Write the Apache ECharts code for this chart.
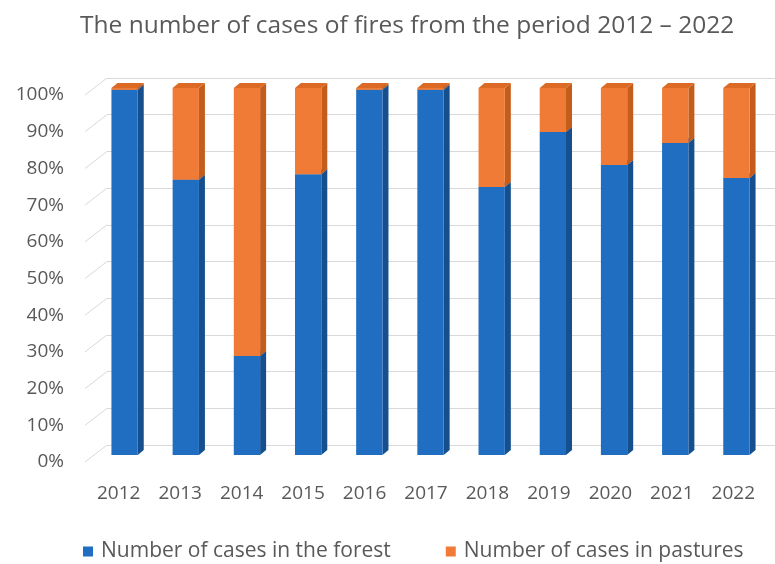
<!DOCTYPE html>
<html>
<head>
<meta charset="utf-8">
<script src="https://cdn.jsdelivr.net/npm/echarts@6/dist/echarts.min.js"></script>
<style>
html,body{margin:0;padding:0;background:#fff;}
#chart{width:775px;height:564px;}
</style>
</head>
<body>
<div id="chart"></div>
<script>
const years = ['2012','2013','2014','2015','2016','2017','2018','2019','2020','2021','2022'];
const forest = [99.5, 75, 27, 76.5, 99.5, 99.5, 73, 88, 79, 85, 75.5];
const pastures = [0.5, 25, 73, 23.5, 0.5, 0.5, 27, 12, 21, 15, 24.5];
const yTicks = [0, 10, 20, 30, 40, 50, 60, 70, 80, 90, 100];
const seriesNames = ['Number of cases in the forest', 'Number of cases in pastures'];
const titleText = 'The number of cases of fires from the period 2012 \u2013 2022';

const FONT = '"Open Sans", sans-serif';
const TXT = '#595959';
const palette = [
  {front: '#1f6ec1', side: '#164f8e', top: '#2a79cf'},
  {front: '#f07b36', side: '#c45d1c', top: '#dd6a24'}
];
const DX = 6, DY = -5;

function boxRenderer(pal) {
  return function (params, api) {
    const idx = api.value(0);
    const lo = api.value(1), hi = api.value(2);
    const pLo = api.coord([idx, lo]);
    const pHi = api.coord([idx, hi]);
    const bw = api.size([1, 0])[0] * 0.43;
    const x0 = pLo[0] - bw / 2, x1 = pLo[0] + bw / 2;
    const yb = pLo[1], yt = pHi[1];
    return {
      type: 'group',
      children: [
        {type: 'polygon', shape: {points: [[x1, yb], [x1 + DX, yb + DY], [x1 + DX, yt + DY], [x1, yt]]}, style: {fill: pal.side}},
        {type: 'polygon', shape: {points: [[x0, yt], [x1, yt], [x1 + DX, yt + DY], [x0 + DX, yt + DY]]}, style: {fill: pal.top}},
        {type: 'rect', shape: {x: x0, y: yt, width: bw, height: yb - yt}, style: {fill: pal.front}}
      ]
    };
  };
}

const forestData = years.map((y, i) => [i, 0, forest[i]]);
const pastureData = years.map((y, i) => [i, forest[i], forest[i] + pastures[i]]);

const chart = echarts.init(document.getElementById('chart'), null, {renderer: 'canvas'});
chart.setOption({
  backgroundColor: '#ffffff',
  animation: false,
  title: {
    text: titleText,
    left: 80, top: 14, padding: 0,
    textStyle: {fontFamily: FONT, fontSize: 24.5, fontWeight: 'normal', color: TXT}
  },
  legend: {
    data: seriesNames,
    left: 83, top: 541, padding: 0,
    itemWidth: 10, itemHeight: 10, itemGap: 55,
    icon: 'rect',
    textStyle: {fontFamily: FONT, fontSize: 21, color: TXT, padding: [0, 0, 0, 3]}
  },
  grid: [
    {left: 107, right: 0, top: 78, bottom: 119},
    {left: 88, right: 11, top: 95, bottom: 102},
    {left: 94, right: 8, top: 88, bottom: 109}
  ],
  xAxis: [
    {gridIndex: 0, type: 'value', min: 0, max: 1, show: false},
    {gridIndex: 1, type: 'category', data: years,
     axisLine: {show: false}, axisTick: {show: false},
     axisLabel: {fontFamily: FONT, fontSize: 19, color: TXT, margin: 22}},
    {gridIndex: 2, type: 'category', data: years, show: false}
  ],
  yAxis: [
    {gridIndex: 0, type: 'value', min: 0, max: 100, interval: 10,
     axisLabel: {show: false}, axisLine: {show: false}, axisTick: {show: false},
     splitLine: {show: true, lineStyle: {color: '#d9d9d9', width: 1}}},
    {gridIndex: 1, type: 'value', min: 0, max: 100, interval: 10,
     axisLine: {show: false}, axisTick: {show: false}, splitLine: {show: false},
     axisLabel: {fontFamily: FONT, fontSize: 19, color: TXT, margin: 24, formatter: '{value}%'}},
    {gridIndex: 2, type: 'value', min: 0, max: 100, show: false}
  ],
  series: [
    {
      type: 'custom', name: 'depth', xAxisIndex: 0, yAxisIndex: 0,
      data: yTicks.map(v => [0, v]),
      silent: true,
      renderItem: function (params, api) {
        const p = api.coord([0, api.value(1)]);
        return {type: 'line', shape: {x1: p[0] - 22, y1: p[1] + 17, x2: p[0], y2: p[1]},
                style: {stroke: '#d9d9d9', lineWidth: 1}};
      }
    },
    {
      type: 'custom', name: seriesNames[0], xAxisIndex: 2, yAxisIndex: 2,
      itemStyle: {color: palette[0].front},
      encode: {x: 0, y: [1, 2]},
      data: forestData,
      renderItem: boxRenderer(palette[0])
    },
    {
      type: 'custom', name: seriesNames[1], xAxisIndex: 2, yAxisIndex: 2,
      itemStyle: {color: palette[1].front},
      encode: {x: 0, y: [1, 2]},
      data: pastureData,
      renderItem: boxRenderer(palette[1])
    }
  ]
});
</script>
</body>
</html>
